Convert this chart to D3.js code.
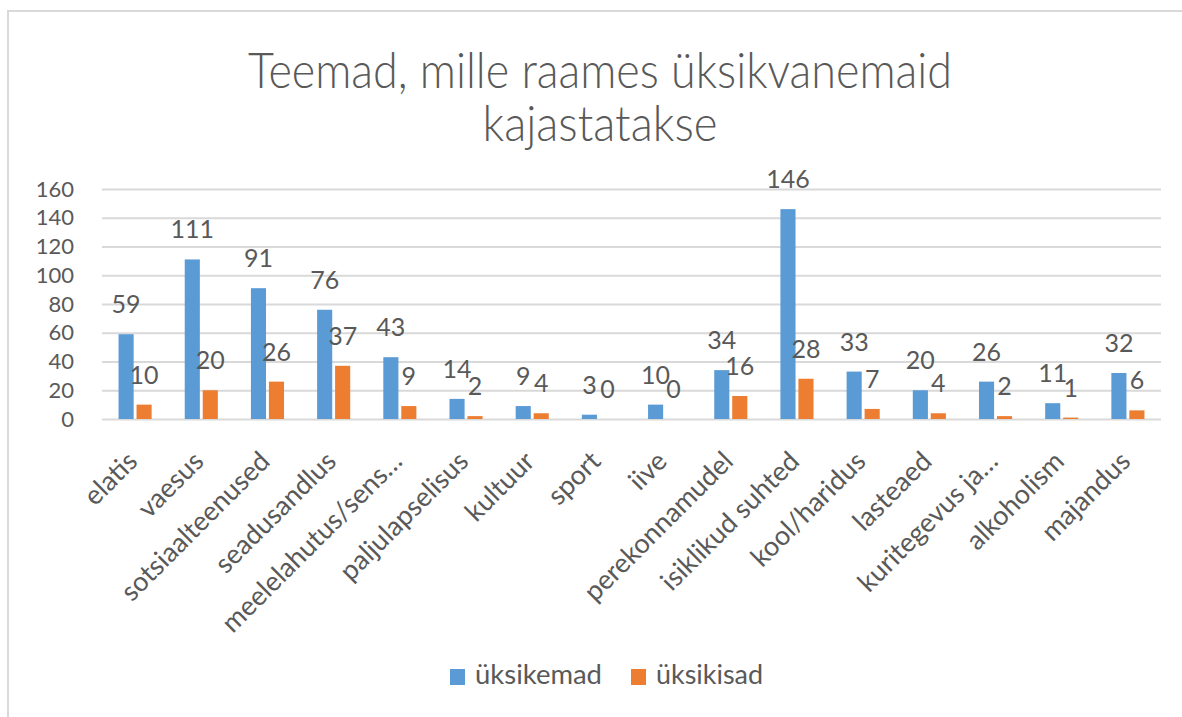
<!DOCTYPE html>
<html>
<head>
<meta charset="utf-8">
<script src="https://cdn.jsdelivr.net/npm/d3@7"></script>
<style>
  html, body { margin: 0; padding: 0; background: #fff; }
  svg { display: block; }
  text { font-family: Lato, "Open Sans", sans-serif; fill: #595959; }
</style>
</head>
<body>
<svg id="chart" width="1182" height="717"></svg>
<script>
const categories = ["elatis", "vaesus", "sotsiaalteenused", "seadusandlus", "meelelahutus/sens…",
  "paljulapselisus", "kultuur", "sport", "iive", "perekonnamudel", "isiklikud suhted",
  "kool/haridus", "lasteaed", "kuritegevus ja…", "alkoholism", "majandus"];
const seriesNames = ["üksikemad", "üksikisad"];
const uksikemad = [59, 111, 91, 76, 43, 14, 9, 3, 10, 34, 146, 33, 20, 26, 11, 32];
const uksikisad = [10, 20, 26, 37, 9, 2, 4, 0, 0, 16, 28, 7, 4, 2, 1, 6];
const yTicks = [0, 20, 40, 60, 80, 100, 120, 140, 160];
const titleLines = ["Teemad, mille raames üksikvanemaid", "kajastatakse"];
const colors = ["#5B9BD5", "#ED7D31"];

(function () {
const svg = d3.select("#chart");

// outer chart border (only top and left visible in the reference)
svg.append("rect").attr("x", 8).attr("y", 11).attr("width", 1200).attr("height", 720)
  .attr("fill", "none").attr("stroke", "#d9d9d9").attr("stroke-width", 2);

// title
const titleWidths = [704, 235];
const titleBase = [88, 141];
titleLines.forEach((t, i) => {
  svg.append("text").attr("x", 600).attr("y", titleBase[i])
    .attr("text-anchor", "middle").attr("font-size", 50)
    .attr("font-weight", 300)
    .attr("textLength", titleWidths[i]).attr("lengthAdjust", "spacingAndGlyphs")
    .text(t);
});

const pLeft = 102, pRight = 1161, pTop = 189, pBottom = 419;
const x = d3.scaleBand().domain(categories).range([pLeft, pRight]).paddingInner(0.5).paddingOuter(0.25);
const xs = d3.scaleBand().domain(seriesNames).range([0, x.bandwidth()]).paddingInner(0.16);
const y = d3.scaleLinear().domain([0, 160]).range([pBottom, pTop]);

// gridlines + y axis
const yAxis = d3.axisLeft(y).tickValues(yTicks).tickSize(-(pRight - pLeft)).tickPadding(28);
const gy = svg.append("g").attr("transform", `translate(${pLeft},0)`).call(yAxis);
gy.select(".domain").remove();
gy.selectAll(".tick line").attr("stroke", "#d9d9d9").attr("stroke-width", 2);
gy.selectAll(".tick text").attr("font-size", 22).attr("fill", "#595959")
  .attr("font-family", "Lato, 'Open Sans', sans-serif");

// bars
const data = categories.map((c, i) => ({ c, vals: [uksikemad[i], uksikisad[i]] }));
const groups = svg.append("g").selectAll("g").data(data).join("g")
  .attr("transform", d => `translate(${x(d.c)},0)`);

groups.selectAll("rect").data(d => d.vals.map((v, k) => ({ v, s: seriesNames[k], k })))
  .join("rect")
  .attr("x", d => xs(d.s)).attr("width", xs.bandwidth())
  .attr("y", d => y(d.v)).attr("height", d => pBottom - y(d.v))
  .attr("fill", d => colors[d.k]);

// data labels
groups.selectAll("text.lbl").data(d => d.vals.map((v, k) => ({ v, s: seriesNames[k], k })))
  .join("text").attr("class", "lbl")
  .attr("x", d => xs(d.s) + xs.bandwidth() / 2)
  .attr("y", d => y(d.v) - 21)
  .attr("text-anchor", "middle").attr("font-size", 25)
  .attr("fill", "#404040")
  .text(d => d.v);

// x axis labels
const xAxis = d3.axisBottom(x).tickSize(0).tickPadding(0);
const gx = svg.append("g").attr("transform", `translate(0,${pBottom})`).call(xAxis);
gx.select(".domain").remove();
gx.selectAll(".tick text")
  .attr("font-size", 27).attr("fill", "#595959")
  .attr("font-family", "Lato, 'Open Sans', sans-serif")
  .attr("text-anchor", "end")
  .attr("dy", null)
  .attr("y", 0)
  .attr("transform", "translate(4,44) rotate(-45)");

// legend
const legendX = [450, 631];
const legendW = [127, 107];
seriesNames.forEach((s, i) => {
  svg.append("rect").attr("x", legendX[i]).attr("y", 669).attr("width", 15).attr("height", 16)
    .attr("fill", colors[i]);
  svg.append("text").attr("x", legendX[i] + 25).attr("y", 684)
    .attr("font-size", 26).attr("fill", "#595959")
    .attr("textLength", legendW[i]).attr("lengthAdjust", "spacingAndGlyphs")
    .text(s);
});
})();
</script>
</body>
</html>
